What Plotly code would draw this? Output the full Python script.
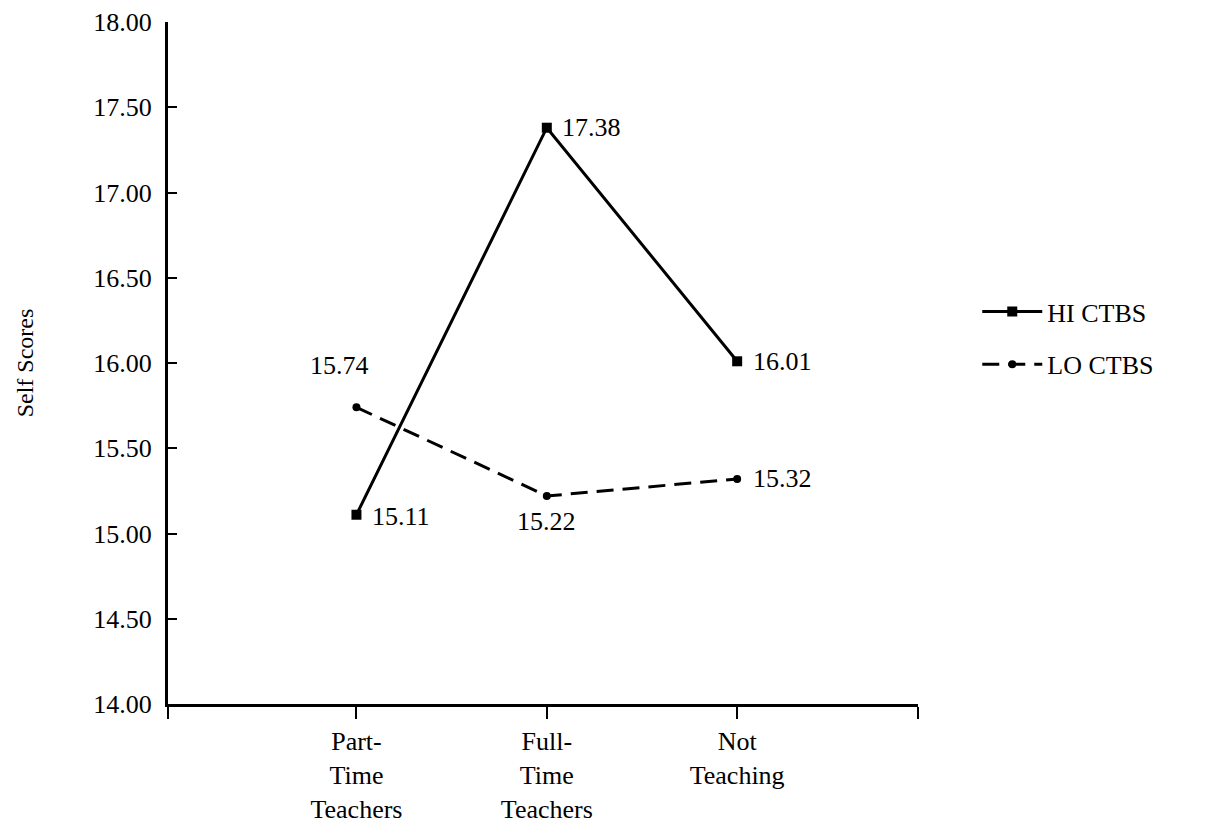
import plotly.graph_objects as go

categories = ["Part-<br>Time<br>Teachers", "Full-<br>Time<br>Teachers", "Not<br>Teaching"]
x_pos = [0, 1, 2]
hi_values = [15.11, 17.38, 16.01]
lo_values = [15.74, 15.22, 15.32]
hi_labels = ["15.11", "17.38", "16.01"]
lo_labels = ["15.74", "15.22", "15.32"]
y_ticks = [14.0, 14.5, 15.0, 15.5, 16.0, 16.5, 17.0, 17.5, 18.0]

FONT = "Liberation Serif"
FS = 26
X_RANGE = [-0.99, 2.95]

fig = go.Figure()
fig.add_trace(go.Scatter(
    x=x_pos, y=hi_values, mode="lines+markers", name="HI CTBS", legendgroup="hi",
    line=dict(color="black", width=3),
    marker=dict(symbol="square", size=10, color="black"),
))
fig.add_trace(go.Scatter(
    x=x_pos, y=lo_values, mode="lines+markers", name="LO CTBS", legendgroup="lo",
    line=dict(color="black", width=3, dash="17px,9px"),
    marker=dict(symbol="circle", size=8, color="black"),
))

hi_shift = [(45, -2), (45, 0), (45, 0)]
lo_shift = [(-17, 42), (0, -26), (45, 0)]
for xv, yv, t, (dx, dy) in zip(x_pos, hi_values, hi_labels, hi_shift):
    fig.add_annotation(x=xv, y=yv, text=t, showarrow=False, xshift=dx, yshift=dy,
                       font=dict(family=FONT, size=FS, color="black"))
for xv, yv, t, (dx, dy) in zip(x_pos, lo_values, lo_labels, lo_shift):
    fig.add_annotation(x=xv, y=yv, text=t, showarrow=False, xshift=dx, yshift=dy,
                       font=dict(family=FONT, size=FS, color="black"))

fig.update_layout(
    width=1208, height=831,
    margin=dict(l=160, r=298, t=14, b=135, autoexpand=False),
    paper_bgcolor="white", plot_bgcolor="white",
    font=dict(family=FONT, size=FS, color="black"),
    showlegend=True,
    legend=dict(x=1.079, y=0.61, xanchor="left", yanchor="top",
                traceorder="grouped", tracegroupgap=16,
                font=dict(family=FONT, size=FS, color="black"),
                itemwidth=60, bgcolor="rgba(0,0,0,0)"),
)
fig.update_xaxes(
    range=X_RANGE, tickvals=[X_RANGE[0]] + x_pos + [X_RANGE[1]],
    ticktext=[""] + categories + [""],
    showgrid=False, zeroline=False, showline=True, linecolor="black", linewidth=3,
    ticks="outside", ticklen=12, tickwidth=2, tickcolor="black", automargin=False,
    tickfont=dict(family=FONT, size=FS, color="black"),
)
fig.update_yaxes(
    range=[14, 18], tickvals=y_ticks, ticktext=[f"{v:.2f}" for v in y_ticks],
    showgrid=False, zeroline=False, showline=True, linecolor="black", linewidth=3,
    ticks="inside", ticklen=9, tickwidth=2, tickcolor="black", automargin=False,
    ticklabelstandoff=8,
    tickfont=dict(family=FONT, size=FS, color="black"),
    title=dict(text="Self Scores", font=dict(family=FONT, size=24, color="black"), standoff=53),
)

fig.write_html("out.html")
